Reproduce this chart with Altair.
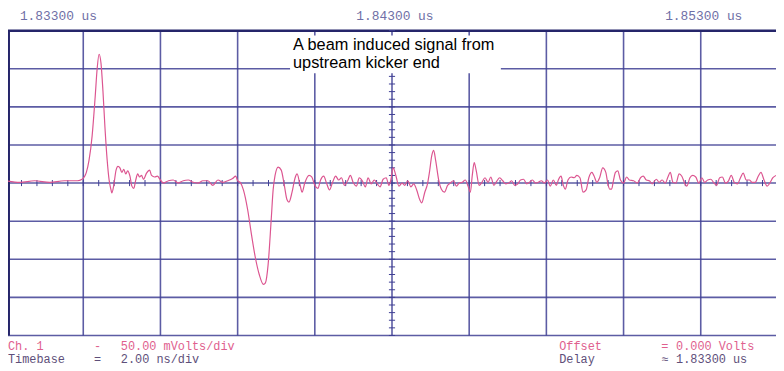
import altair as alt
import pandas as pd

# ---- data (time in ns after 1.83300 us, voltage in mV) ----
t_ns = [0.00, 0.36, 0.74, 1.13, 1.51, 1.85, 1.97, 2.08, 2.15, 2.23, 2.31, 2.36, 2.41, 2.46, 2.51, 2.56,
        2.62, 2.67, 2.72, 2.74, 2.79, 2.85, 2.90, 2.95, 3.00, 3.05, 3.10, 3.15, 3.21, 3.26, 3.31, 3.36,
        3.41, 3.46, 3.51, 3.56, 3.64, 3.72, 3.77, 3.85, 3.92, 4.00, 4.08, 4.21, 4.33, 4.46, 4.59, 4.72,
        4.85, 4.97, 5.10, 5.23, 5.36, 5.49, 5.62, 5.74, 5.87, 5.95, 6.00, 6.08, 6.15, 6.26, 6.36, 6.46,
        6.56, 6.67, 6.72, 6.79, 6.87, 6.92, 6.97, 7.05, 7.13, 7.21, 7.28, 7.33, 7.41, 7.49, 7.54, 7.62,
        7.67, 7.74, 7.85, 7.92, 8.00,
        8.08, 8.15, 8.23, 8.31, 8.38, 8.46, 8.54, 8.62, 8.69, 8.77, 8.85, 8.92, 9.00, 9.08, 9.15, 9.23,
        9.31, 9.38, 9.46, 9.54, 9.62, 9.69, 9.77, 9.85, 9.92, 9.97, 10.03, 10.10, 10.18, 10.26, 10.33,
        10.41, 10.49, 10.56, 10.64, 10.72, 10.77, 10.85, 10.92, 10.97, 11.03, 11.08, 11.13, 11.21, 11.28,
        11.36, 11.44, 11.51, 11.59, 11.67, 11.74, 11.82, 11.90, 11.97, 12.03, 12.08, 12.13, 12.18, 12.26,
        12.33, 12.41, 12.49, 12.56, 12.64, 12.72, 12.79, 12.87, 12.95, 13.03, 13.10, 13.18, 13.26, 13.33,
        13.41, 13.49, 13.56, 13.64, 13.72, 13.79, 13.87, 13.95, 14.03, 14.10, 14.18, 14.26, 14.31, 14.38,
        14.44, 14.49, 14.56, 14.64, 14.72, 14.79, 14.87, 14.95, 15.03, 15.10, 15.18, 15.23, 15.31, 15.38,
        15.46, 15.54, 15.59, 15.64, 15.69, 15.74, 15.79, 15.85, 15.92, 16.00, 16.08, 16.15, 16.26, 16.36,
        16.44, 16.51, 16.59, 16.67, 16.74, 16.85, 16.92, 17.00, 17.08, 17.15, 17.21, 17.28, 17.36, 17.44,
        17.51, 17.59, 17.64, 17.72, 17.79, 17.87, 17.95, 18.03, 18.10, 18.18, 18.26, 18.33, 18.41, 18.49,
        18.56, 18.64, 18.72, 18.79, 18.87, 18.95, 19.03, 19.10, 19.18, 19.26, 19.33, 19.41, 19.49, 19.56,
        19.64, 19.72, 19.79, 19.87, 19.95]
v_mv = [3, 1, 3, 1, 3, 3, 5, 14, 30, 62, 114, 150, 169, 157, 121, 75,
        30, 4, -9, -13, -3, 17, 22, 20, 14, 18, 12, 16, 9, -4, -7, 4,
        12, 8, 10, 5, 13, 17, 10, 8, 9, 4, 0, 3, 4, 0, 3, 4,
        1, 0, 3, 3, -3, 4, 1, 3, 6, 9, 3, 0, -9, -35, -68, -98,
        -120, -133, -131, -107, -48, -9, 10, 21, 17, -3, -22, -25, -12, 7, 12, -3,
        -12, 0, 10, 8, -3,
        -7, 4, 9, -1, -9, 1, 9, 4, 7, -3, 3, 10, 0, -4, 7, 3,
        -5, 7, -1, 4, -1, -5, 5, 7, -3, 4, 20, 10, -4, 0, -3,
        3, -5, -1, -9, -22, -26, -12, -1, 14, 36, 43, 30, 4, -8,
        -12, -3, 0, 3, -4, 0, 1, 4, -4, -12, 10, 27, 17, -3,
        1, 7, 1, 8, -3, 3, 7, 3, -1, 0, 3, -3, -1, 4,
        5, -1, 1, 4, 0, 1, 3, 0, 4, -4, 4, -3, 4, 9,
        -3, -8, 4, 8, 7, 10, 7, -12, -9, 7, 14, 10, 1, 7,
        20, 14, 0, -8, -8, 4, 14, 16, 4, 0, 8, 4, 3, 0,
        7, 9, 4, 3, -1, 5, 1, 4, 0, 8, 14, 1, 0, 12,
        9, -1, -4, 7, 10, 8, 0, 7, 1, 4, 5, 1, -3, 7,
        8, 0, 3, 10, 1, -1, 7, 13, 4, 4, 1, 1, 9, 14,
        4, -4, 0, 7, 10]

grid_t = [0, 2, 4, 6, 8, 10, 12, 14, 16, 18]          # 2 ns/div
grid_v = [-200, -150, -100, -50, 0, 50, 100, 150]      # 50 mV/div

header_labels = ["1.83300 us", "1.84300 us", "1.85300 us"]
note_lines = ["A beam induced signal from", "upstream kicker end"]

W, H = 776, 308
GRID = "#3f3f94"
TRACE = "#dc5590"

xs = alt.Scale(domain=[0.05, 19.95], nice=False, zero=False)
ys = alt.Scale(domain=[-200, 200], nice=False, zero=False)

# grid
vgrid = alt.Chart(pd.DataFrame({"t": grid_t})).mark_rule(color=GRID, strokeWidth=1.6, opacity=0.85).encode(
    x=alt.X("t:Q", scale=xs, axis=None), y=alt.value(0), y2=alt.value(H))
hgrid = alt.Chart(pd.DataFrame({"v": grid_v})).mark_rule(color=GRID, strokeWidth=1.6, opacity=0.85).encode(
    y=alt.Y("v:Q", scale=ys, axis=None), x=alt.value(0), x2=alt.value(W))
top_border = alt.Chart(pd.DataFrame({"v": [200]})).mark_rule(color="#25256a", strokeWidth=2.5).encode(
    y=alt.Y("v:Q", scale=ys, axis=None), x=alt.value(0), x2=alt.value(W))
left_border = alt.Chart(pd.DataFrame({"v": [0]})).mark_rule(color="#25256a", strokeWidth=2).encode(
    x=alt.value(1), y=alt.value(0), y2=alt.value(H))

# minor ticks on centre axes
mt = [0.4 * k for k in range(50)]
minor_h = alt.Chart(pd.DataFrame({"t": mt, "a": [-4] * len(mt), "b": [4] * len(mt)})).mark_rule(
    color=GRID, strokeWidth=1).encode(
    x=alt.X("t:Q", scale=xs, axis=None), y=alt.Y("a:Q", scale=ys, axis=None), y2="b:Q")
mv = [10 * k for k in range(-20, 21)]
minor_v = alt.Chart(pd.DataFrame({"v": mv, "a": [9.92] * len(mv), "b": [10.08] * len(mv)})).mark_rule(
    color=GRID, strokeWidth=1).encode(
    y=alt.Y("v:Q", scale=ys, axis=None), x=alt.X("a:Q", scale=xs, axis=None), x2="b:Q")

# trace
trace = alt.Chart(pd.DataFrame({"t": t_ns, "v": v_mv})).mark_line(
    color=TRACE, strokeWidth=1.2, interpolate="monotone", clip=True).encode(
    x=alt.X("t:Q", scale=xs, axis=None), y=alt.Y("v:Q", scale=ys, axis=None))

# annotation box
box = alt.Chart(pd.DataFrame({"k": [0]})).mark_rect(color="white").encode(
    x=alt.value(285), x2=alt.value(498), y=alt.value(5), y2=alt.value(43))


def txt(label, x, y, color, size, font, align="left"):
    return alt.Chart(pd.DataFrame({"s": [label]})).mark_text(
        align=align, baseline="middle", color=color, fontSize=size, font=font).encode(
        text="s:N", x=alt.value(x), y=alt.value(y))


MONO = "Liberation Mono"
PINK = "#e0608e"
DARK = "#5e4f7a"
HEAD = "#6f6fa6"
L1, L2 = 319, 332
FS = 12
texts = [
    txt(header_labels[0], 12, -15, HEAD, 13, MONO),
    txt(header_labels[1], 352, -15, HEAD, 13, MONO),
    txt(header_labels[2], 664, -15, HEAD, 13, MONO),
    txt(note_lines[0], 288, 15, "black", 16.5, "Liberation Sans"),
    txt(note_lines[1], 288, 33, "black", 16.5, "Liberation Sans"),
    txt("Ch. 1", 0, L1, PINK, FS, MONO),
    txt("-", 87, L1, PINK, FS, MONO),
    txt("50.00 mVolts/div", 114, L1, PINK, FS, MONO),
    txt("Offset", 557, L1, PINK, FS, MONO),
    txt("=", 660, L1, PINK, FS, MONO),
    txt("0.000  Volts", 675, L1, PINK, FS, MONO),
    txt("Timebase", 0, L2, DARK, FS, MONO),
    txt("=", 87, L2, DARK, FS, MONO),
    txt("2.00 ns/div", 114, L2, DARK, FS, MONO),
    txt("Delay", 557, L2, DARK, FS, MONO),
    txt("≈", 660, L2, DARK, FS, MONO),
    txt("1.83300 us", 675, L2, DARK, FS, MONO),
]

chart = alt.layer(vgrid, hgrid, top_border, left_border, minor_h, minor_v, trace, box, *texts).properties(
    width=W, height=H,
    autosize=alt.AutoSizeParams(type="none"),
    padding={"left": 0, "top": 21, "right": 0, "bottom": 34},
    background="white",
).configure_view(stroke=None)

chart.save("out.html", embed_options={"renderer": "svg", "actions": False})
